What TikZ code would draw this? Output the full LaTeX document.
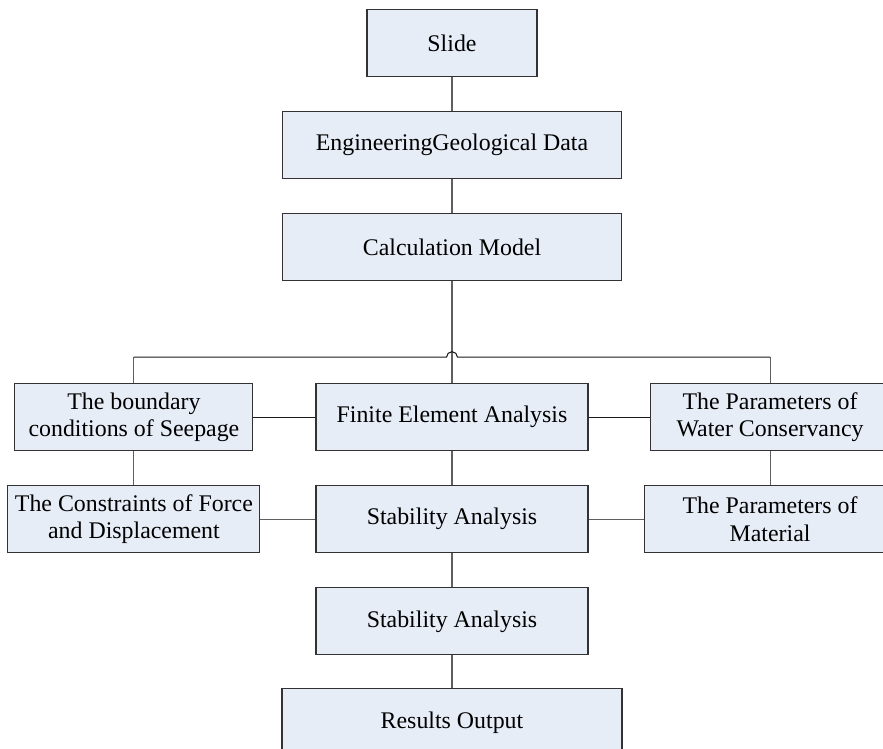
\documentclass[tikz,border=0pt]{standalone}
\usepackage{fontspec}
\setmainfont{Liberation Serif}
\usepackage{tikz}
\usetikzlibrary{positioning}

\definecolor{boxfill}{RGB}{231,237,247}
\definecolor{boxline}{RGB}{50,50,50}
\definecolor{linkgray}{RGB}{95,95,95}

\begin{document}
\begin{tikzpicture}[x=0.75pt, y=-0.75pt,
                stepbox/.style={draw=boxline, fill=boxfill, line width=0.8pt,
                                minimum height=50.25pt, align=center, inner sep=2pt,
                                font=\fontsize{17.9pt}{20.6pt}\selectfont},
                link/.style={draw=linkgray, line width=0.8pt},
                bus/.style={draw=black!90, line width=0.8pt}]

                \useasboundingbox (0,0) rectangle (883,749);
                \clip (0,0) rectangle (883,749);

                % Main column
                \node[stepbox, minimum width=127.5pt] (slide) at (452,43) {Slide};
                \node[stepbox, minimum width=254.25pt, below=25.5pt of slide] (geo) {EngineeringGeological Data};
                \node[stepbox, minimum width=254.25pt, below=25.5pt of geo] (calc) {Calculation Model};
                \node[stepbox, minimum width=204pt, below=76.5pt of calc] (fea) {Finite Element Analysis};
                \node[stepbox, minimum width=204pt, below=25.5pt of fea] (stab) {Stability Analysis};
                \node[stepbox, minimum width=204pt, below=25.5pt of stab] (stabb) {Stability Analysis};
                \node[stepbox, minimum width=255pt, below=24.75pt of stabb] (res) {Results Output};

                % Side columns
                \node[stepbox, minimum width=178.5pt, left=46.5pt of fea] (bnd) {The boundary\\conditions of Seepage};
                \node[stepbox, minimum width=180pt, right=45.75pt of fea] (water) {The Parameters of\\Water Conservancy};
                \node[stepbox, minimum width=189pt, below=25.5pt of bnd] (cons) {The Constraints of Force\\and Displacement};
                \node[stepbox, minimum width=189pt, below=25.5pt of water] (mat) {The Parameters of\\Material};

                % Vertical links
                \draw[link] (slide.south) -- (geo.north);
                \draw[link] (geo.south) -- (calc.north);
                \draw[link] (calc.south) -- (fea.north);
                \draw[link] (fea.south) -- (stab.north);
                \draw[link] (stab.south) -- (stabb.north);
                \draw[link] (stabb.south) -- (res.north);
                \draw[link] (bnd.south) -- (cons.north);
                \draw[link] (water.south) -- (mat.north);

                % Bus with hop over the main line
                \path (fea.north) ++(0,-26) coordinate (hop);
                \draw[link] (bnd.north) -- (bnd.north |- hop);
                \draw[link] (water.north) -- (water.north |- hop);
                \draw[bus] (bnd.north |- hop) -- ([xshift=-4.1pt]hop)
                    arc[start angle=180, end angle=0, radius=4.1pt] -- (water.north |- hop);

                % Horizontal links
                \draw[bus] (bnd.east) -- (fea.west);
                \draw[bus] (fea.east) -- (water.west);
                \draw[link] (cons.east) -- (stab.west);
                \draw[link] (stab.east) -- (mat.west);
\end{tikzpicture}
\end{document}
